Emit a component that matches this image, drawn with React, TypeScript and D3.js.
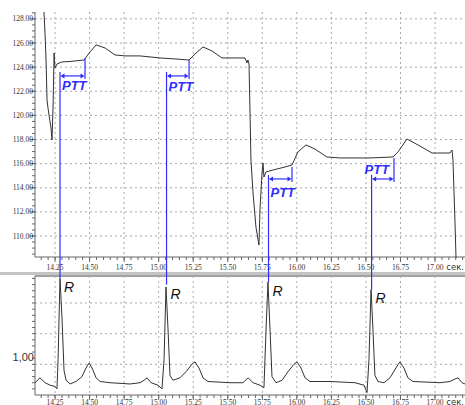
import * as d3 from "d3";

// seconds
const timeTicks = [14.25, 14.5, 14.75, 15.0, 15.25, 15.5, 15.75, 16.0, 16.25, 16.5, 16.75, 17.0];
// mmHg
const pressureTicks = [110, 112, 114, 116, 118, 120, 122, 124, 126, 128];
const ecgGrid = [0.25, 0.5, 0.75];

// blood pressure trace
const bpTime = [
  14.17, 14.178, 14.185, 14.192, 14.199, 14.214, 14.221, 14.228, 14.236, 14.243, 14.25, 14.264,
  14.301, 14.359, 14.46, 14.503, 14.547, 14.612, 14.684, 14.757, 14.865, 15.01, 15.118, 15.22,
  15.263, 15.321, 15.386, 15.458, 15.552, 15.625, 15.639, 15.646, 15.654, 15.668, 15.683, 15.704,
  15.726, 15.733, 15.748, 15.755, 15.762, 15.777, 15.827, 15.914, 15.965, 16.008, 16.066, 16.131,
  16.218, 16.312, 16.529, 16.696, 16.732, 16.797, 16.891, 16.978, 17.108, 17.123, 17.13, 17.144,
  17.152,
];
const bpValue = [
  128.57, 126.67, 124.59, 121.28, 120.61, 119.45, 118.96, 117.96, 120.86, 125.17, 123.93, 124.26,
  124.43, 124.47, 124.59, 125.26, 125.84, 125.59, 125.01, 124.93, 124.93, 124.76, 124.68, 124.59,
  125.09, 125.67, 125.34, 124.76, 124.76, 124.76, 124.35, 124.59, 124.26, 116.3, 113.57, 110.75,
  109.25, 112.16, 115.22, 116.05, 114.89, 115.31, 115.47, 115.72, 115.89, 116.97, 117.55, 117.21,
  116.55, 116.47, 116.47, 116.55, 116.97, 118.04, 117.46, 116.88, 116.88, 117.13, 116.3, 111.33,
  108.18,
];

// ECG trace
const ecgTime = [
  14.105, 14.141, 14.178, 14.214, 14.25, 14.264, 14.272, 14.286, 14.301, 14.315, 14.33, 14.359,
  14.402, 14.445, 14.474, 14.496, 14.518, 14.547, 14.576, 14.648, 14.793, 14.865, 14.894, 14.916,
  14.945, 14.995, 15.024, 15.039, 15.053, 15.068, 15.082, 15.104, 15.154, 15.198, 15.241, 15.263,
  15.292, 15.321, 15.357, 15.516, 15.61, 15.647, 15.683, 15.733, 15.762, 15.777, 15.791, 15.806,
  15.82, 15.849, 15.893, 15.936, 15.979, 16.001, 16.03, 16.059, 16.095, 16.24, 16.421, 16.486,
  16.508, 16.522, 16.537, 16.551, 16.565, 16.587, 16.631, 16.674, 16.717, 16.746, 16.775, 16.804,
  16.84, 17.036, 17.108, 17.144, 17.166, 17.195, 17.217,
];
const ecgValue = [
  0.1, 0.14, 0.1, 0.08, 0.07, 0.05, 0.29, 0.95, 0.61, 0.2, 0.12, 0.09,
  0.11, 0.15, 0.22, 0.26, 0.22, 0.14, 0.11, 0.1, 0.09, 0.1, 0.12, 0.14,
  0.1, 0.08, 0.05, 0.29, 0.88, 0.53, 0.16, 0.12, 0.14, 0.19, 0.25, 0.27,
  0.22, 0.14, 0.11, 0.1, 0.1, 0.14, 0.1, 0.08, 0.06, 0.53, 0.92, 0.53,
  0.15, 0.1, 0.12, 0.19, 0.25, 0.27, 0.22, 0.14, 0.11, 0.11, 0.1, 0.08,
  0.02, 0.29, 0.86, 0.53, 0.16, 0.11, 0.1, 0.14, 0.22, 0.27, 0.22, 0.14,
  0.11, 0.1, 0.11, 0.13, 0.14, 0.1, 0.09,
];

// pulse transit time markers
const rPeakTime = [14.286, 15.057, 15.795, 16.541];
const rPeakValue = [0.95, 0.9, 0.92, 0.86];
const pulseTime = [14.467, 15.22, 15.965, 16.703];
const pulseValue = [124.76, 124.59, 115.72, 116.47];
const pttLevel = [123.27, 123.27, 114.73, 114.73];

// layout
const W = 465;
const H = 405;
const left = 35;
const topPanel = { y0: 12, y1: 257 };
const botPanel = { y0: 276, y1: 395 };
const pttLabelAbove = [false, false, false, true];
const pttLabelDy = [14, 15, 18, -5];

const blue = "#2e2eff";
const grid = "#a8a8a8";
const axisColor = "#666";
const tickFont = "'Liberation Serif', serif";

export default function App() {
  const x = d3.scaleLinear().domain([14.105, 17.217]).range([left, W]);
  const yTop = d3.scaleLinear().domain([108.26, 128.57]).range([topPanel.y1, topPanel.y0]);
  const yBot = d3.scaleLinear().domain([0, 0.97]).range([botPanel.y1, botPanel.y0]);

  const bpLine = d3
    .line<number>()
    .x((_, i) => x(bpTime[i]))
    .y((d) => yTop(d));
  const ecgLine = d3
    .line<number>()
    .x((_, i) => x(ecgTime[i]))
    .y((d) => yBot(d));

  const fmt = d3.format(".2f");
  const minorT = d3.range(14.15, 17.22, 0.05);
  const minorP = d3.range(108.5, 128.6, 0.5);
  const minorE = d3.range(0.05, 0.97, 0.05);

  const xAxis = (y: number, labelDy: number) => (
    <g>
      <line x1={left} x2={W} y1={y} y2={y} stroke={axisColor} />
      {minorT.map((t, i) => (
        <line key={i} x1={x(t)} x2={x(t)} y1={y} y2={y + 3} stroke={axisColor} />
      ))}
      {timeTicks.map((t) => (
        <g key={t}>
          <line x1={x(t)} x2={x(t)} y1={y} y2={y + 5} stroke={axisColor} />
          <text x={x(t)} y={y + labelDy} textAnchor="middle" fontSize={7.5} fontFamily={tickFont} fill="#333">
            {fmt(t)}
          </text>
        </g>
      ))}
      <text x={W - 1} y={y + labelDy} textAnchor="end" fontSize={8.5} fontFamily="'DejaVu Sans', sans-serif" fill="#333">
        сек.
      </text>
    </g>
  );

  return (
    <div style={{ position: "absolute", left: 0, top: 0 }}>
      <svg width={W} height={H} style={{ display: "block", background: "#fff" }}>
        <defs>
          <clipPath id="clipTop">
            <rect x={left} y={topPanel.y0} width={W - left} height={topPanel.y1 - topPanel.y0 + 1} />
          </clipPath>
          <clipPath id="clipBot">
            <rect x={left} y={botPanel.y0} width={W - left} height={botPanel.y1 - botPanel.y0} />
          </clipPath>
        </defs>

        {/* top panel grid */}
        <g stroke={grid} strokeDasharray="2,3" strokeWidth={1}>
          {pressureTicks.map((p) => (
            <line key={p} x1={left} x2={W} y1={yTop(p)} y2={yTop(p)} />
          ))}
          {timeTicks.map((t) => (
            <line key={t} x1={x(t)} x2={x(t)} y1={topPanel.y0} y2={topPanel.y1} />
          ))}
        </g>

        {/* top y axis */}
        <line x1={left} x2={left} y1={topPanel.y0} y2={topPanel.y1} stroke={axisColor} />
        {minorP.map((p, i) => (
          <line key={i} x1={left - 3} x2={left} y1={yTop(p)} y2={yTop(p)} stroke={axisColor} />
        ))}
        {pressureTicks.map((p) => (
          <g key={p}>
            <line x1={left - 5} x2={left} y1={yTop(p)} y2={yTop(p)} stroke={axisColor} />
            <text x={left - 2} y={yTop(p) + 2.5} textAnchor="end" fontSize={7.5} fontFamily={tickFont} fill="#333">
              {fmt(p)}
            </text>
          </g>
        ))}
        {xAxis(topPanel.y1, 13)}

        {/* panel separator */}
        <line x1={0} x2={W} y1={273.5} y2={273.5} stroke="#c4c4c4" strokeWidth={3} />
        <line x1={left} x2={W} y1={botPanel.y0} y2={botPanel.y0} stroke="#444" />

        {/* bottom panel grid */}
        <g stroke={grid} strokeDasharray="2,3" strokeWidth={1}>
          {ecgGrid.map((v) => (
            <line key={v} x1={left} x2={W} y1={yBot(v)} y2={yBot(v)} />
          ))}
          {timeTicks.map((t) => (
            <line key={t} x1={x(t)} x2={x(t)} y1={botPanel.y0} y2={botPanel.y1} />
          ))}
        </g>
        <line x1={left} x2={left} y1={botPanel.y0} y2={botPanel.y1} stroke={axisColor} />
        {minorE.map((v, i) => (
          <line key={i} x1={left - 3} x2={left} y1={yBot(v)} y2={yBot(v)} stroke={axisColor} />
        ))}
        <text x={left - 1} y={361} textAnchor="end" fontSize={11} fontFamily="'Liberation Sans', sans-serif" fill="#333">
          1,00
        </text>
        {xAxis(botPanel.y1, 9.5)}

        {/* traces */}
        <path d={bpLine(bpValue) ?? ""} fill="none" stroke="#333" strokeWidth={1} clipPath="url(#clipTop)" />
        <path d={ecgLine(ecgValue) ?? ""} fill="none" stroke="#333" strokeWidth={1} clipPath="url(#clipBot)" />

        {/* PTT markers */}
        {rPeakTime.map((rt, i) => {
          const rx = x(rt);
          const px = x(pulseTime[i]);
          const ay = yTop(pttLevel[i]);
          const above = pttLabelAbove[i];
          return (
            <g key={i}>
              <line x1={rx} x2={rx} y1={ay - 4} y2={yBot(rPeakValue[i])} stroke={blue} strokeWidth={1.2} />
              <line x1={px} x2={px} y1={yTop(pulseValue[i])} y2={ay + 3} stroke={blue} strokeWidth={1.2} />
              <line x1={rx + 2} x2={px - 2} y1={ay} y2={ay} stroke={blue} strokeWidth={1.2} />
              <path d={`M${rx + 0.5},${ay} l4,-2.5 v5 Z`} fill={blue} />
              <path d={`M${px - 0.5},${ay} l-4,-2.5 v5 Z`} fill={blue} />
              <text
                x={above ? rx - 7 : rx + 2}
                y={ay + pttLabelDy[i]}
                fontSize={13}
                fontWeight="bold"
                fontStyle="italic"
                fontFamily="'Liberation Sans', Arial, sans-serif"
                fill={blue}
              >
                PTT
              </text>
              <text
                x={rx + 4}
                y={yBot(rPeakValue[i]) + 14}
                fontSize={14}
                fontStyle="italic"
                fontFamily="'Liberation Sans', Arial, sans-serif"
                fill="#111"
              >
                R
              </text>
            </g>
          );
        })}
      </svg>
    </div>
  );
}
